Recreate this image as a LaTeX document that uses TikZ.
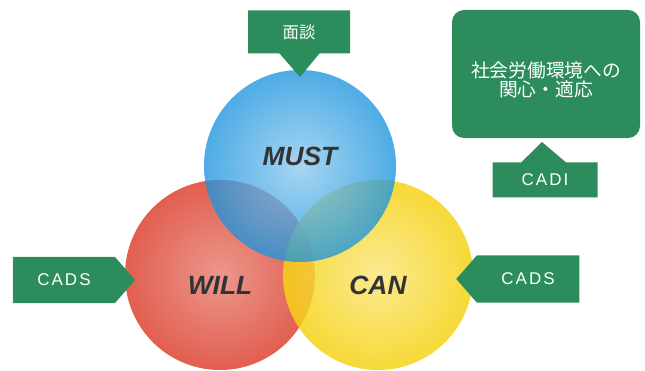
\documentclass[tikz,border=0pt]{standalone}
\usepackage{fontspec}
\setmainfont{Liberation Sans}
\newfontfamily\jpfont{Noto Sans CJK JP}
\newfontfamily\tagfont[LetterSpace=12]{Liberation Sans}
\usetikzlibrary{shapes.callouts,shapes.symbols}
\definecolor{boxgreen}{RGB}{44,140,92}
\definecolor{mustblue}{RGB}{28,148,222}
\definecolor{willred}{RGB}{224,86,70}
\definecolor{canyellow}{RGB}{246,210,20}
\tikzset{
  venn/.style={circle,minimum size=#1,inner sep=0pt},
  word/.style={font=\fontsize{22.5}{22.5}\selectfont\bfseries\itshape,text=black!80},
  greenbox/.style={fill=boxgreen,text=white,inner sep=0pt},
  tag/.style={greenbox,font=\tagfont\fontsize{14.5}{14.5}\selectfont},
}
\begin{document}
\begin{tikzpicture}[x=0.03cm,y=-0.03cm]
  \useasboundingbox (0,0) rectangle (645,371);
  % the three circles
  \node[venn=5.7cm,shading=radial,inner color=willred!65!white,outer color=willred,
        fill opacity=0.95,label={[word,yshift=-0.3cm]center:WILL}] (will) at (220,275) {};
  \node[venn=5.7cm,shading=radial,inner color=canyellow!55!white,outer color=canyellow,
        fill opacity=0.85,label={[word,yshift=-0.3cm]center:CAN}] (can) at (378,275) {};
  \node[venn=5.76cm,shading=radial,inner color=mustblue!50!white,outer color=mustblue,
        fill opacity=0.78,label={[word,yshift=0.3cm]center:MUST}] (must) at (300,166) {};
  % callouts
  \coordinate (musttip) at (300,77);
  \node[tag,font=\jpfont\fontsize{14}{14}\selectfont,rectangle callout,
        minimum width=3.06cm,minimum height=1.29cm,callout pointer width=1.2cm,
        callout absolute pointer=(musttip)] (interview) at (299,32) {面談};
  \node[greenbox,rounded corners=0.36cm,minimum width=5.64cm,minimum height=3.84cm,
        align=center,font=\jpfont\fontsize{16}{16.5}\selectfont] (society) at (546,74)
        {\rule{0pt}{24pt}社会労働環境への\\関心・適応};
  \coordinate (societytip) at (542,142);
  \node[tag,rectangle callout,minimum width=3.15cm,minimum height=1.05cm,
        callout pointer width=1.35cm,callout absolute pointer=(societytip)] (cadi) at (545,180) {CADI};
  \node[tag,signal,signal to=east,signal pointer angle=98,
        minimum width=3.66cm,minimum height=1.38cm] (cadsleft) at (64,280) {CADS};
  \node[tag,signal,signal to=west,signal pointer angle=98,
        minimum width=3.69cm,minimum height=1.41cm] (cadsright) at (528,279) {CADS};
\end{tikzpicture}
\end{document}
